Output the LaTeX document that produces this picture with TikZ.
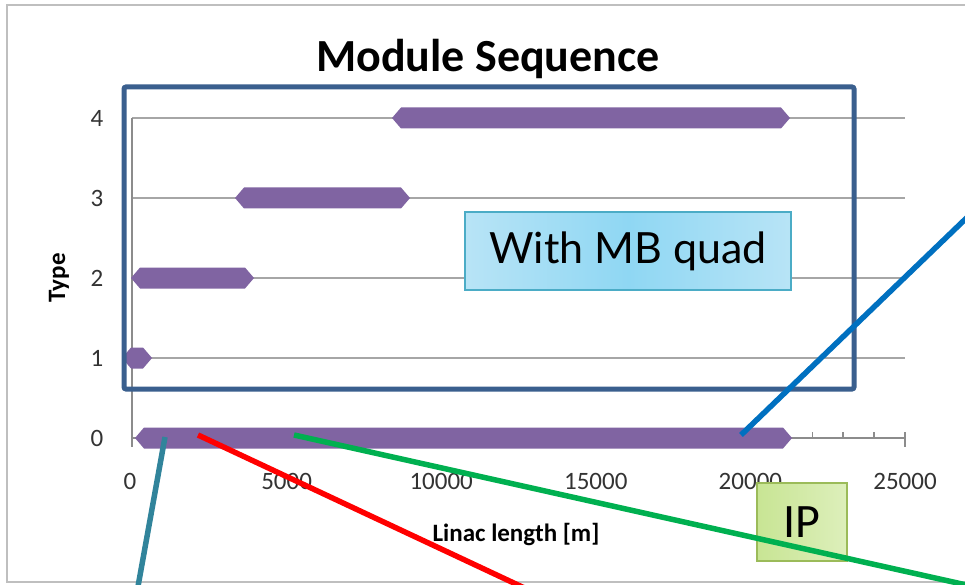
\documentclass[tikz,border=0pt]{standalone}
\usepackage{fontspec}
\setmainfont{Carlito}
\newfontfamily\gillfont{Lato}
\definecolor{barpurple}{HTML}{8064A2}
\definecolor{frameblue}{HTML}{3A5F8E}
\definecolor{gridgray}{HTML}{A6A6A6}
\definecolor{axisgray}{HTML}{8C8C8C}
\definecolor{bordergray}{HTML}{BFBFBF}
\definecolor{tealline}{HTML}{31849B}
\definecolor{redline}{HTML}{FF0000}
\definecolor{greenline}{HTML}{00B050}
\definecolor{blueline}{HTML}{0070C0}
\definecolor{mbfill}{HTML}{8FD7F3}
\definecolor{mbfilllight}{HTML}{B8E4F6}
\definecolor{mbborder}{HTML}{4BACC6}
\definecolor{ipfill}{HTML}{C8E594}
\definecolor{ipfilllight}{HTML}{DDEFBB}
\definecolor{ipborder}{HTML}{9BBB59}
\newcommand\hexbar[3]{%
  \fill[barpurple] (#1,#3) -- (#1+9,#3-10.5) -- (#2-9,#3-10.5) -- (#2,#3)
    -- (#2-9,#3+10.5) -- (#1+9,#3+10.5) -- cycle;}
\tikzset{
  gridline/.style={draw=gridgray,line width=1.5pt},
  axisline/.style={draw=axisgray,line width=1.5pt},
  ticklabel/.style={text=black!80,font=\fontsize{25}{27}\selectfont,inner sep=0pt},
  axislabel/.style={text=black,font=\bfseries\fontsize{25}{27}\selectfont,inner sep=0pt},
  callout/.style={line width=5.5pt},
}
\begin{document}
\begin{tikzpicture}[x=1pt,y=-1pt]
\useasboundingbox (0,0) rectangle (965,585);
\begin{scope}
\clip (0,0) rectangle (965,585);
\fill[white] (0,0) rectangle (965,585);
\draw[draw=bordergray,line width=2pt] (7,5) rectangle (990,582);
% title
\node[anchor=base,inner sep=0pt,font=\bfseries\fontsize{46}{50}\selectfont] (title) at (488,72) {Module Sequence};
% grid and axes
\foreach \yy in {118,198,278,358} \draw[gridline] (132,\yy) -- (905,\yy);
\draw[axisline] (132,118) -- (132,447);
\draw[axisline] (132,438) -- (905,438);
\foreach \i in {1,...,24} \draw[axisline] ({132+\i*30.92},432) -- ++(0,6);
\draw[axisline] (905,432) -- (905,447);
% y tick labels
\node[ticklabel] (y4) at (97,118) {4};
\node[ticklabel] (y3) at (97,198) {3};
\node[ticklabel] (y2) at (97,278) {2};
\node[ticklabel] (y1) at (97,358) {1};
\node[ticklabel] (y0) at (97,438) {0};
% x tick labels
\node[ticklabel] (x0) at (130,481) {0};
\node[ticklabel] (x1) at (286.6,481) {5000};
\node[ticklabel] (x2) at (441.2,481) {10000};
\node[ticklabel] (x3) at (595.8,481) {15000};
\node[ticklabel] (x4) at (750.4,481) {20000};
\node[ticklabel] (x5) at (905,481) {25000};
% axis titles
\node[axislabel,rotate=90] (ytitle) at (59,278) {Type};
\node[axislabel] (xtitle) at (516,534) {Linac length [m]};
% bars
\hexbar{392}{790}{118}
\hexbar{235}{410}{198}
\hexbar{131}{254}{278}
\hexbar{122}{152}{358}
\hexbar{135}{792}{438}
% frame
\draw[frameblue,line width=5pt,rounded corners=2pt] (124,87) rectangle (854,389);
% text boxes
\node[draw=mbborder,line width=1.5pt,left color=mbfilllight,right color=mbfilllight,middle color=mbfill,
      minimum width=326pt,minimum height=78pt,inner sep=0pt,
      font=\gillfont\fontsize{43}{48}\selectfont] (mb) at (628,251) {With MB quad};
\node[draw=ipborder,line width=1.5pt,left color=ipfill,right color=ipfilllight,
      minimum width=90pt,minimum height=78pt,inner sep=0pt,
      font=\fontsize{48}{52}\selectfont] (ip) at (802,522) {IP};
% callout lines
\coordinate (tealA) at (165,437);
\coordinate (tealB) at (137,592);
\coordinate (redA) at (198,435);
\coordinate (redB) at (533,592);
\coordinate (greenA) at (294,435);
\coordinate (greenB) at (980,588);
\coordinate (blueA) at (741,435);
\coordinate (blueB) at (980,205);
\draw[callout,tealline] (tealA) -- (tealB);
\draw[callout,redline] (redA) -- (redB);
\draw[callout,greenline] (greenA) -- (greenB);
\draw[callout,blueline] (blueA) -- (blueB);
\end{scope}
\end{tikzpicture}
\end{document}
